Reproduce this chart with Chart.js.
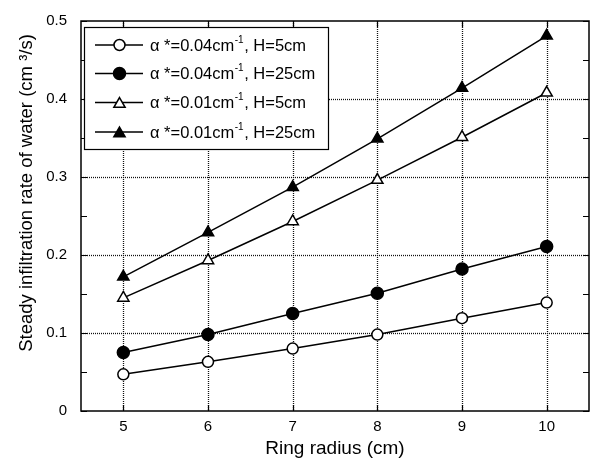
<!DOCTYPE html>
<html><head><meta charset="utf-8">
<script src="https://cdn.jsdelivr.net/npm/chart.js@4/dist/chart.umd.min.js"></script>
<style>html,body{margin:0;padding:0;background:#fff;} canvas{display:block}</style>
</head><body>
<canvas id="c" width="592" height="459"></canvas>
<script>
// ---- data ----
const ringRadius = [5, 6, 7, 8, 9, 10];
const rateA004H5  = [0.047, 0.063, 0.080, 0.098, 0.119, 0.139];
const rateA004H25 = [0.075, 0.098, 0.125, 0.151, 0.182, 0.211];
const rateA001H5  = [0.145, 0.193, 0.243, 0.296, 0.351, 0.408];
const rateA001H25 = [0.172, 0.229, 0.287, 0.349, 0.414, 0.481];
const seriesLabels = ['α *=0.04cm⁻¹, H=5cm', 'α *=0.04cm⁻¹, H=25cm', 'α *=0.01cm⁻¹, H=5cm', 'α *=0.01cm⁻¹, H=25cm'];
const legendParts = [
  ['α *=0.04cm', '-1', ', H=5cm'],
  ['α *=0.04cm', '-1', ', H=25cm'],
  ['α *=0.01cm', '-1', ', H=5cm'],
  ['α *=0.01cm', '-1', ', H=25cm']
];
const xTicks = [5, 6, 7, 8, 9, 10];
const xTickLabels = ['5', '6', '7', '8', '9', '10'];
const yTicks = [0, 0.1, 0.2, 0.3, 0.4, 0.5];
const yTickLabels = ['0', '0.1', '0.2', '0.3', '0.4', '0.5'];
const yMinorTicks = [0.05, 0.15, 0.25, 0.35, 0.45];
const xAxisTitle = 'Ring radius (cm)';
const yAxisTitle = 'Steady infiltration rate of water (cm ³/s)';

const FONT = "'Liberation Sans', Arial, Helvetica, sans-serif";
const toPts = arr => ringRadius.map((x, i) => ({x: x, y: arr[i]}));

const markerStyles = [
  {style: 'circle', r: 5.5, fill: '#fff'},
  {style: 'circle', r: 6, fill: '#000'},
  {style: 'triangle', r: 6.5, fill: '#fff'},
  {style: 'triangle', r: 6.5, fill: '#000'}
];
const seriesData = [rateA004H5, rateA004H25, rateA001H5, rateA001H25];

const datasets = seriesData.map((arr, i) => ({
  label: seriesLabels[i],
  data: toPts(arr),
  borderColor: '#000',
  borderWidth: 1.5,
  pointStyle: markerStyles[i].style,
  pointRadius: markerStyles[i].r,
  pointHoverRadius: markerStyles[i].r,
  pointBackgroundColor: markerStyles[i].fill,
  pointBorderColor: '#000',
  pointBorderWidth: 1.5,
  fill: false,
  tension: 0
}));

function drawMarker(ctx, style, r, fill, x, y) {
  ctx.save();
  ctx.beginPath();
  if (style === 'circle') {
    ctx.arc(x, y, r, 0, Math.PI * 2);
  } else {
    let rad = 0;
    ctx.moveTo(x + Math.sin(rad) * r, y - Math.cos(rad) * r);
    rad += 2 * Math.PI / 3;
    ctx.lineTo(x + Math.sin(rad) * r, y - Math.cos(rad) * r);
    rad += 2 * Math.PI / 3;
    ctx.lineTo(x + Math.sin(rad) * r, y - Math.cos(rad) * r);
    ctx.closePath();
  }
  ctx.fillStyle = fill;
  ctx.fill();
  ctx.lineWidth = 1.5;
  ctx.strokeStyle = '#000';
  ctx.stroke();
  ctx.restore();
}

const framePlugin = {
  id: 'frame',
  beforeDatasetsDraw(chart) {
    const {ctx, chartArea: a, scales: {x, y}} = chart;
    ctx.save();
    // dotted grid
    ctx.strokeStyle = '#111';
    ctx.lineWidth = 1.3;
    ctx.setLineDash([1, 1]);
    xTicks.forEach(v => {
      const px = Math.round(x.getPixelForValue(v)) + 0.5;
      ctx.beginPath(); ctx.moveTo(px, a.top); ctx.lineTo(px, a.bottom); ctx.stroke();
    });
    yTicks.forEach(v => {
      if (v <= y.min || v >= y.max) return;
      const py = Math.round(y.getPixelForValue(v)) + 0.5;
      ctx.beginPath(); ctx.moveTo(a.left, py); ctx.lineTo(a.right, py); ctx.stroke();
    });
    ctx.setLineDash([]);
    // inward ticks
    ctx.strokeStyle = '#000';
    ctx.lineWidth = 1.2;
    const TL = 6;
    xTicks.forEach(v => {
      const px = Math.round(x.getPixelForValue(v)) + 0.5;
      ctx.beginPath();
      ctx.moveTo(px, a.bottom); ctx.lineTo(px, a.bottom - TL);
      ctx.moveTo(px, a.top); ctx.lineTo(px, a.top + TL);
      ctx.stroke();
    });
    yTicks.concat(yMinorTicks).forEach(v => {
      const py = Math.round(y.getPixelForValue(v)) + 0.5;
      ctx.beginPath();
      ctx.moveTo(a.left, py); ctx.lineTo(a.left + TL, py);
      ctx.moveTo(a.right, py); ctx.lineTo(a.right - TL, py);
      ctx.stroke();
    });
    // border
    ctx.lineWidth = 1.5;
    ctx.strokeRect(a.left, a.top, a.right - a.left, a.bottom - a.top);
    ctx.restore();
  },
  afterDatasetsDraw(chart) {
    const {ctx, chartArea: a} = chart;
    ctx.save();
    // legend box
    const bx = 84.5, by = 27.5, bw = 244, bh = 122;
    ctx.fillStyle = '#fff';
    ctx.fillRect(bx, by, bw, bh);
    ctx.strokeStyle = '#000';
    ctx.lineWidth = 1.2;
    ctx.strokeRect(bx, by, bw, bh);
    const rowY = [45, 73.5, 102.5, 132];
    rowY.forEach((ry, i) => {
      ctx.strokeStyle = '#000';
      ctx.lineWidth = 1.5;
      ctx.beginPath(); ctx.moveTo(95, ry); ctx.lineTo(143, ry); ctx.stroke();
      const m = markerStyles[i];
      drawMarker(ctx, m.style, m.r, m.fill, 119.5, ry + (m.style === 'triangle' ? 1.5 : 0));
      const p = legendParts[i];
      ctx.fillStyle = '#000';
      ctx.textBaseline = 'middle';
      ctx.textAlign = 'left';
      ctx.font = '16.5px ' + FONT;
      let tx = 150;
      ctx.fillText(p[0], tx, ry + 1);
      tx += ctx.measureText(p[0]).width;
      ctx.font = '10px ' + FONT;
      ctx.fillText(p[1], tx + 0.5, ry - 5);
      tx += ctx.measureText(p[1]).width + 1;
      ctx.font = '16.5px ' + FONT;
      ctx.fillText(p[2], tx, ry + 1);
    });
    ctx.restore();
  },
  afterDraw(chart) {
    const {ctx, chartArea: a} = chart;
    ctx.save();
    ctx.fillStyle = '#000';
    ctx.font = '19px ' + FONT;
    ctx.textAlign = 'center';
    ctx.textBaseline = 'alphabetic';
    ctx.fillText(xAxisTitle, (a.left + a.right) / 2, 454);
    ctx.font = '18.5px ' + FONT;
    ctx.translate(32, 193);
    ctx.rotate(-Math.PI / 2);
    ctx.fillText(yAxisTitle, 0, 0);
    ctx.restore();
  }
};

new Chart(document.getElementById('c'), {
  type: 'line',
  data: {datasets: datasets},
  options: {
    responsive: false,
    animation: false,
    devicePixelRatio: 1,
    layout: {autoPadding: false, padding: {top: 21, right: 3, left: 0, bottom: 0}},
    plugins: {legend: {display: false}, tooltip: {enabled: false}},
    scales: {
      x: {
        type: 'linear', min: 4.5, max: 10.5,
        afterBuildTicks: s => { s.ticks = xTicks.map(v => ({value: v})); },
        afterFit: s => { s.height = 48; s.paddingLeft = 0; s.paddingRight = 0; },
        ticks: {
          color: '#000', font: {size: 15, family: FONT}, padding: 7,
          maxRotation: 0, autoSkip: false,
          callback: (v) => { const i = xTicks.indexOf(v); return i >= 0 ? xTickLabels[i] : ''; }
        },
        grid: {display: false, drawTicks: false},
        border: {display: false}
      },
      y: {
        type: 'linear', min: 0, max: 0.5,
        afterBuildTicks: s => { s.ticks = yTicks.map(v => ({value: v})); },
        afterFit: s => { s.width = 81; s.paddingTop = 0; s.paddingBottom = 0; },
        ticks: {
          color: '#000', font: {size: 15, family: FONT}, padding: 14,
          autoSkip: false,
          callback: (v) => { const i = yTicks.findIndex(t => Math.abs(t - v) < 1e-9); return i >= 0 ? yTickLabels[i] : ''; }
        },
        grid: {display: false, drawTicks: false},
        border: {display: false}
      }
    }
  },
  plugins: [framePlugin]
});
</script>
</body></html>
